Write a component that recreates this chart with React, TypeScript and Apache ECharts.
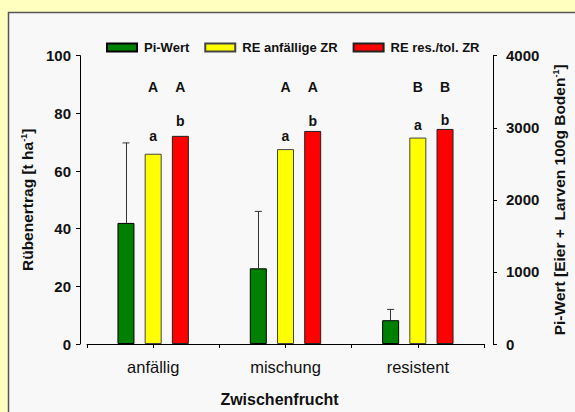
import React, { useEffect, useRef } from "react";
import * as echarts from "echarts";

const categories = ["anfällig", "mischung", "resistent"];
const piWert = [1680, 1050, 330];
const piSD = [1110, 790, 150];
const reAnfaellig = [66.0, 67.6, 71.6];
const reResTol = [72.2, 73.9, 74.6];
const upperLettersYellow = ["A", "A", "B"];
const upperLettersRed = ["A", "A", "B"];
const lowerLettersYellow = ["a", "a", "a"];
const lowerLettersRed = ["b", "b", "b"];
const upperLetterLevel = 89;
const lowerLevelYellow = [72.0, 72.0, 75.8];
const lowerLevelRed = [77.5, 77.5, 77.8];
const leftTicks = { min: 0, max: 100, interval: 20 };
const rightTicks = { min: 0, max: 4000, interval: 1000 };

const FONT = "'Liberation Sans', Arial, sans-serif";

function letterMarks(upper: string[], lower: string[], lowerLevel: number[]) {
  const data: any[] = [];
  upper.forEach((l, i) => data.push({ coord: [i, upperLetterLevel], name: l }));
  lower.forEach((l, i) => data.push({ coord: [i, lowerLevel[i]], name: l }));
  return {
    silent: true,
    symbol: "circle",
    symbolSize: 1,
    itemStyle: { color: "rgba(0,0,0,0)" },
    label: {
      show: true,
      position: "inside",
      formatter: "{b}",
      fontFamily: FONT,
      fontWeight: "bold",
      fontSize: 14,
      color: "#111",
    },
    data,
  };
}

export default function App() {
  const ref = useRef<HTMLDivElement>(null);
  useEffect(() => {
    if (!ref.current) return;
    const chart = echarts.init(ref.current, null, { renderer: "svg" });
    const option: any = {
      animation: false,
      backgroundColor: "#FFFFC0",
      textStyle: { fontFamily: FONT },
      graphic: [
        {
          type: "rect",
          z: -100,
          shape: { x: 8.5, y: 12.5, width: 600, height: 450 },
          style: { fill: "#F8F8F8", stroke: "#555", lineWidth: 1.5 },
        },
      ],
      legend: {
        left: 101,
        top: 36,
        itemWidth: 30,
        itemHeight: 8,
        itemGap: 15,
        icon: "rect",
        data: ["Pi-Wert", "RE anfällige ZR", "RE res./tol. ZR"],
        textStyle: {
          fontFamily: FONT,
          fontWeight: "bold",
          fontSize: 13,
          color: "#111",
          padding: [0, 0, 0, 2],
        },
      },
      grid: { left: 87, right: 83, top: 55.7, bottom: 67 },
      xAxis: [
        {
          type: "category",
          data: categories,
          position: "bottom",
          axisLine: { lineStyle: { color: "#000", width: 1 } },
          axisTick: { show: true, alignWithLabel: false, length: 4, lineStyle: { color: "#000" } },
          axisLabel: { fontFamily: FONT, fontSize: 16.5, color: "#111", margin: 14 },
          name: "Zwischenfrucht",
          nameLocation: "middle",
          nameGap: 47,
          nameTextStyle: {
            fontFamily: FONT,
            fontWeight: "bold",
            fontSize: 16,
            color: "#111",
            padding: [0, 12, 0, 0],
          },
        },
        {
          type: "category",
          data: categories,
          position: "bottom",
          axisLine: { show: false },
          axisTick: { show: true, alignWithLabel: true, length: 4, lineStyle: { color: "#000" } },
          axisLabel: { show: false },
        },
      ],
      yAxis: [
        {
          type: "value",
          position: "left",
          offset: 7,
          min: leftTicks.min,
          max: leftTicks.max,
          interval: leftTicks.interval,
          splitLine: { show: false },
          axisLine: { show: true, lineStyle: { color: "#000", width: 1 } },
          axisTick: { show: true, length: 4, lineStyle: { color: "#000" } },
          axisLabel: { fontFamily: FONT, fontWeight: "bold", fontSize: 15, color: "#111", margin: 9 },
          name: "Rübenertrag [t ha{sup|-1}]",
          nameLocation: "middle",
          nameRotate: 90,
          nameGap: 43,
          nameTextStyle: {
            fontFamily: FONT,
            fontWeight: "bold",
            fontSize: 15.5,
            color: "#111",
            rich: {
              sup: { fontFamily: FONT, fontWeight: "bold", fontSize: 9, color: "#111", verticalAlign: "top", lineHeight: 10 },
            },
          },
        },
        {
          type: "value",
          position: "right",
          offset: 9,
          min: rightTicks.min,
          max: rightTicks.max,
          interval: rightTicks.interval,
          splitLine: { show: false },
          axisLine: { show: true, lineStyle: { color: "#000", width: 1 } },
          axisTick: { show: true, length: 4, lineStyle: { color: "#000" } },
          axisLabel: {
            fontFamily: FONT,
            fontWeight: "bold",
            fontSize: 15,
            color: "#111",
            margin: 13,
            formatter: (v: number) => String(v),
          },
          name: "Pi-Wert [Eier +  Larven 100g Boden{sup|-1}]",
          nameLocation: "middle",
          nameRotate: 90,
          nameGap: 58,
          nameTextStyle: {
            fontFamily: FONT,
            fontWeight: "bold",
            fontSize: 15.5,
            color: "#111",
            rich: {
              sup: { fontFamily: FONT, fontWeight: "bold", fontSize: 9, color: "#111", verticalAlign: "top", lineHeight: 10 },
            },
          },
        },
      ],
      series: [
        {
          name: "Pi-Wert",
          type: "bar",
          yAxisIndex: 1,
          data: piWert,
          barWidth: 17,
          barGap: "60%",
          itemStyle: { color: "#008000", borderColor: "#000", borderWidth: 1 },
          markLine: {
            silent: true,
            symbol: ["none", "none"],
            label: { show: false },
            lineStyle: { color: "#333", width: 1, type: "solid" },
            data: piWert.map((v, i) => [{ coord: [i, v] }, { coord: [i, v + piSD[i]] }]),
          },
          markPoint: {
            silent: true,
            symbol: "rect",
            symbolSize: [7, 1],
            itemStyle: { color: "#333" },
            label: { show: false },
            data: piWert.map((v, i) => ({ coord: [i, v + piSD[i]] })),
          },
        },
        {
          name: "RE anfällige ZR",
          type: "bar",
          yAxisIndex: 0,
          data: reAnfaellig,
          barWidth: 17,
          barGap: "60%",
          itemStyle: { color: "#FFFF00", borderColor: "#444", borderWidth: 1 },
          markPoint: letterMarks(upperLettersYellow, lowerLettersYellow, lowerLevelYellow),
        },
        {
          name: "RE res./tol. ZR",
          type: "bar",
          yAxisIndex: 0,
          data: reResTol,
          barWidth: 17,
          barGap: "60%",
          itemStyle: { color: "#FF0000", borderColor: "#222", borderWidth: 1 },
          markPoint: letterMarks(upperLettersRed, lowerLettersRed, lowerLevelRed),
        },
      ],
    };
    chart.setOption(option);
    return () => chart.dispose();
  }, []);
  return (
    <div
      ref={ref}
      style={{ position: "absolute", left: 0, top: 0, width: 575, height: 412 }}
    />
  );
}
